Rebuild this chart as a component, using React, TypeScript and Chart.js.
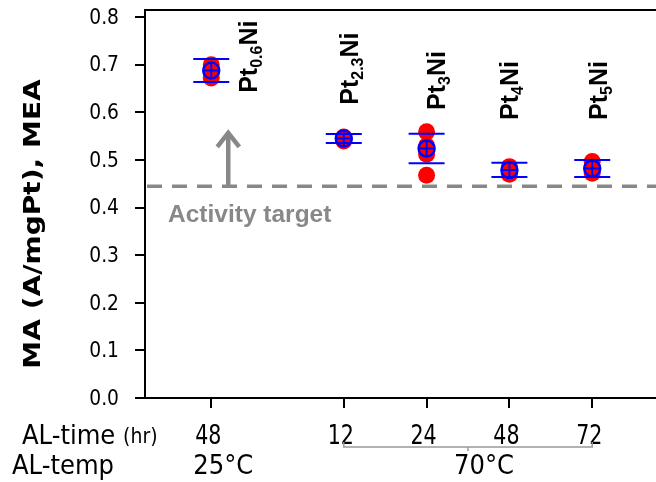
import { useEffect, useRef } from "react";
import { Chart, registerables } from "chart.js";

Chart.register(...registerables);

// ---------- data ----------
const alTimeLabels = ["48", "12", "24", "48", "72"];
const samplePositions = [0, 1.6, 2.6, 3.6, 4.6];
const ptSubscripts = ["0.6", "2.3", "3", "4", "5"];
const replicates = [
  [0.7, 0.685, 0.672],
  [0.548, 0.543, 0.54],
  [0.559, 0.53, 0.512, 0.468],
  [0.486, 0.477, 0.47],
  [0.497, 0.484, 0.472],
];
const means = [0.688, 0.545, 0.524, 0.479, 0.482];
const stdDevs = [0.024, 0.0095, 0.031, 0.015, 0.018];
const yTickValues = [0, 0.1, 0.2, 0.3, 0.4, 0.5, 0.6, 0.7, 0.8];
const activityTarget = 0.445;
const arrowTipValue = 0.561;
const targetLabelValue = 0.37;

// ---------- layout ----------
const X_MIN = -0.8;
const X_MAX = 5.37;
const Y_MAX = 0.815;
const labelOffsetsPx = [46, 14, 18, 9, 15];
const labelBottomValues = [0.641, 0.616, 0.605, 0.584, 0.584];
const ARROW_DX = 17;
const TARGET_TEXT_LEFT = 168;
const COND = '"DejaVu Sans Condensed", "DejaVu Sans", sans-serif';
const SANS = '"DejaVu Sans", Verdana, sans-serif';

function scaledText(ctx: any, text: string, px: number, py: number, sx: number) {
  ctx.save();
  ctx.translate(px, py);
  ctx.scale(sx, 1);
  ctx.fillText(text, 0, 0);
  ctx.restore();
}

const annotPlugin = {
  id: "annot",
  beforeDatasetsDraw(chart: any) {
    const { ctx, chartArea, scales } = chart;
    const x = scales.x;
    const y = scales.y;
    ctx.save();
    // top frame line
    ctx.strokeStyle = "#000";
    ctx.lineWidth = 2;
    ctx.beginPath();
    ctx.moveTo(chartArea.left, chartArea.top);
    ctx.lineTo(chartArea.right, chartArea.top);
    ctx.stroke();

    // target dashed line
    const ty = y.getPixelForValue(activityTarget);
    ctx.strokeStyle = "#888888";
    ctx.lineWidth = 3.5;
    ctx.setLineDash([15, 10]);
    ctx.beginPath();
    ctx.moveTo(chartArea.left + 2, ty);
    ctx.lineTo(chartArea.right, ty);
    ctx.stroke();
    ctx.setLineDash([]);

    // arrow
    const ax = x.getPixelForValue(samplePositions[0]) + ARROW_DX;
    const at = y.getPixelForValue(arrowTipValue);
    ctx.lineWidth = 4.5;
    ctx.lineCap = "butt";
    ctx.beginPath();
    ctx.moveTo(ax, ty);
    ctx.lineTo(ax, at + 3);
    ctx.stroke();
    ctx.lineJoin = "miter";
    ctx.beginPath();
    ctx.moveTo(ax - 11, at + 16);
    ctx.lineTo(ax, at + 2);
    ctx.lineTo(ax + 11, at + 16);
    ctx.stroke();

    // target text
    ctx.fillStyle = "#888888";
    ctx.font = 'bold 24.5px "Liberation Sans", Arial, sans-serif';
    ctx.textBaseline = "alphabetic";
    ctx.textAlign = "left";
    ctx.fillText("Activity target", TARGET_TEXT_LEFT, y.getPixelForValue(targetLabelValue));
    ctx.restore();
  },
  afterDraw(chart: any) {
    const { ctx, scales } = chart;
    const x = scales.x;
    const y = scales.y;
    ctx.save();
    ctx.fillStyle = "#000";

    // y tick labels (from the scale's ticks)
    ctx.font = "22px " + SANS;
    ctx.textAlign = "right";
    ctx.textBaseline = "middle";
    y.ticks.forEach((t: any) => {
      scaledText(ctx, Number(t.value).toFixed(1), 119, y.getPixelForValue(t.value) + 1, 0.85);
    });

    // x tick labels
    ctx.font = "26px " + COND;
    ctx.textAlign = "center";
    x.ticks.forEach((t: any, i: number) => {
      scaledText(ctx, alTimeLabels[i], x.getPixelForValue(t.value) - 3, 437, 0.88);
    });

    // composition labels
    ptSubscripts.forEach((sub, i) => {
      const px = x.getPixelForValue(samplePositions[i]) + labelOffsetsPx[i];
      const py = y.getPixelForValue(labelBottomValues[i]);
      ctx.save();
      ctx.translate(px, py);
      ctx.rotate(-Math.PI / 2);
      ctx.textBaseline = "alphabetic";
      ctx.textAlign = "left";
      ctx.font = 'bold 25px "Liberation Sans", Arial, sans-serif';
      ctx.fillText("Pt", 0, 0);
      let w = ctx.measureText("Pt").width;
      ctx.font = 'bold 16px "Liberation Sans", Arial, sans-serif';
      ctx.fillText(sub, w, 5);
      w += ctx.measureText(sub).width;
      ctx.font = 'bold 25px "Liberation Sans", Arial, sans-serif';
      ctx.fillText("Ni", w, 0);
      ctx.restore();
    });

    // y title
    ctx.save();
    ctx.translate(34, 224);
    ctx.rotate(-Math.PI / 2);
    ctx.scale(1.22, 1);
    ctx.textAlign = "center";
    ctx.textBaseline = "middle";
    ctx.font = "bold 23px " + SANS;
    ctx.fillText("MA (A/mgPt), MEA", 0, 0);
    ctx.restore();

    // bottom rows
    ctx.textBaseline = "middle";
    ctx.textAlign = "left";
    ctx.font = "27px " + COND;
    ctx.fillText("AL-time", 22, 437);
    const wt = ctx.measureText("AL-time ").width;
    ctx.font = "21px " + COND;
    ctx.fillText("(hr)", 22 + wt, 438);
    ctx.font = "27px " + COND;
    ctx.fillText("AL-temp", 12, 467);
    ctx.textAlign = "center";
    ctx.fillText("25°C", x.getPixelForValue(samplePositions[0]) + 12, 467);
    const bx0 = x.getPixelForValue(samplePositions[1]);
    const bx1 = x.getPixelForValue(samplePositions[4]);
    const bmid = (bx0 + bx1) / 2;
    ctx.fillText("70°C", bmid + 16, 467);

    // bracket
    ctx.strokeStyle = "#999999";
    ctx.lineWidth = 1.5;
    ctx.beginPath();
    ctx.moveTo(bx0, 442);
    ctx.lineTo(bx0, 447);
    ctx.lineTo(bx1, 447);
    ctx.lineTo(bx1, 442);
    ctx.moveTo(bmid, 447);
    ctx.lineTo(bmid, 451);
    ctx.stroke();
    ctx.restore();
  },
};

export default function App() {
  const ref = useRef<HTMLCanvasElement | null>(null);
  useEffect(() => {
    document.body.style.margin = "0";
    const canvas = ref.current;
    if (!canvas) return;
    const redData = replicates.flatMap((vals, i) =>
      vals.map((v) => ({ x: samplePositions[i], y: v }))
    );
    const meanData = means.map((m, i) => ({ x: samplePositions[i], y: m }));
    const errData = means.flatMap((m, i) => [
      { x: samplePositions[i], y: m + stdDevs[i] },
      { x: samplePositions[i], y: m - stdDevs[i] },
    ]);
    const axisCommon = {
      grid: {
        drawOnChartArea: false,
        drawTicks: true,
        tickLength: 10,
        color: "#000",
        lineWidth: 2,
      },
      border: { display: true, color: "#000", width: 2 },
    };
    const chart = new Chart(canvas, {
      type: "scatter",
      data: {
        datasets: [
          {
            data: errData,
            pointRadius: 18,
            pointStyle: "line",
            pointBorderColor: "#0000ff",
            pointBorderWidth: 2,
          },
          {
            data: meanData,
            pointRadius: 8,
            pointStyle: "cross",
            pointBorderColor: "#0000ff",
            pointBorderWidth: 2,
          },
          {
            data: meanData,
            pointRadius: 8,
            pointStyle: "circle",
            pointBackgroundColor: "rgba(0,0,0,0)",
            pointBorderColor: "#0000ff",
            pointBorderWidth: 2.5,
          },
          {
            data: redData,
            pointRadius: 8.5,
            pointStyle: "circle",
            pointBackgroundColor: "#ff0000",
            pointBorderWidth: 0,
            pointBorderColor: "#ff0000",
          },
        ],
      } as any,
      options: {
        animation: false,
        responsive: false,
        devicePixelRatio: 1,
        events: [],
        layout: { autoPadding: false, padding: { top: 10, right: 0, left: 0, bottom: 0 } },
        plugins: { legend: { display: false }, tooltip: { enabled: false } },
        scales: {
          x: {
            type: "linear",
            min: X_MIN,
            max: X_MAX,
            afterBuildTicks: (s: any) => {
              s.ticks = samplePositions.map((v) => ({ value: v }));
            },
            afterFit: (s: any) => {
              s.height = 84;
            },
            ticks: { display: false, autoSkip: false },
            ...axisCommon,
          },
          y: {
            min: 0,
            max: Y_MAX,
            afterBuildTicks: (s: any) => {
              s.ticks = yTickValues.map((v) => ({ value: v }));
            },
            afterFit: (s: any) => {
              s.width = 145;
            },
            ticks: { display: false, autoSkip: false },
            ...axisCommon,
          },
        },
      } as any,
      plugins: [annotPlugin],
    });
    return () => chart.destroy();
  }, []);
  return (
    <div style={{ width: 656, height: 482 }}>
      <canvas ref={ref} width={656} height={482} style={{ width: 656, height: 482, display: "block" }} />
    </div>
  );
}
